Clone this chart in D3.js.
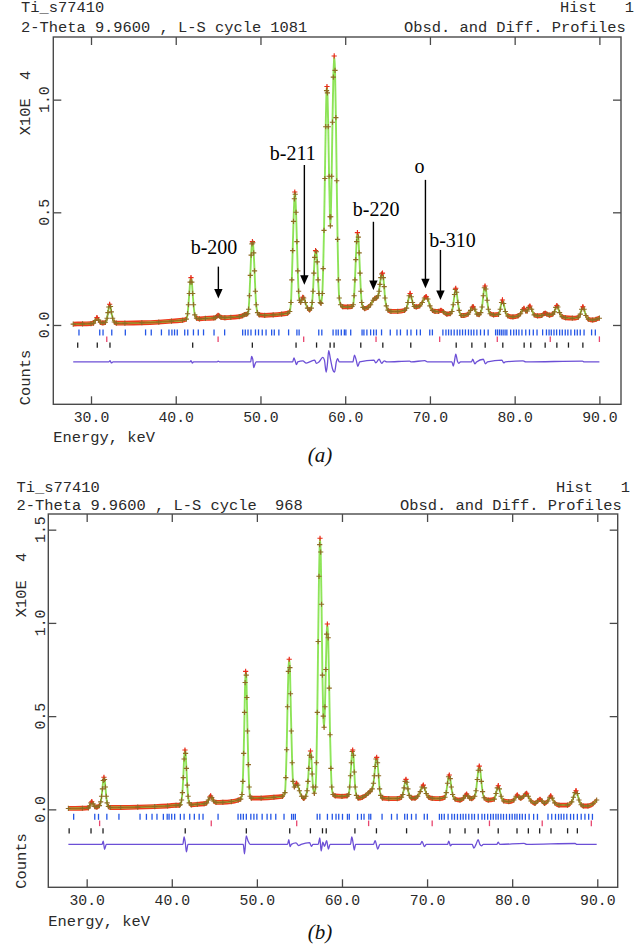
<!DOCTYPE html>
<html><head><meta charset="utf-8">
<script src="https://cdn.jsdelivr.net/npm/d3@7"></script>
<style>body{margin:0;background:#fff;} svg{display:block;} text{white-space:pre;}</style>
</head><body><svg id="c" width="640" height="945"></svg>
<script>
// ---------------- DATA ----------------
const xTicks = [30, 40, 50, 60, 70, 80, 90];
const yTicksA = [0, 0.5, 1.0];
const yTicksB = [0, 0.5, 1.0, 1.5];

// Panel (a): observed profile [energy keV, counts x1e4]
const obsA = [[27.9,0.004],[29.0,0.005],[30.0,0.006],[30.3,0.008],[30.5,0.02],[30.7,0.033],[30.9,0.022],[31.1,0.012],[31.4,0.009],[31.7,0.012],[31.9,0.03],[32.0,0.055],[32.1,0.08],[32.2,0.092],[32.3,0.082],[32.4,0.058],[32.55,0.03],[32.75,0.013],[33.0,0.008],[34.0,0.008],[36.0,0.01],[38.0,0.013],[39.5,0.017],[40.8,0.021],[41.25,0.026],[41.4,0.05],[41.5,0.09],[41.6,0.14],[41.7,0.19],[41.8,0.21],[41.9,0.19],[42.0,0.14],[42.1,0.09],[42.25,0.045],[42.45,0.03],[42.8,0.027],[43.5,0.029],[44.5,0.031],[44.7,0.033],[44.85,0.038],[45.0,0.043],[45.15,0.039],[45.35,0.034],[45.8,0.032],[46.5,0.034],[47.5,0.037],[47.9,0.041],[48.1,0.046],[48.3,0.047],[48.5,0.05],[48.6,0.07],[48.7,0.13],[48.8,0.22],[48.9,0.31],[49.0,0.36],[49.05,0.37],[49.1,0.365],[49.2,0.32],[49.3,0.24],[49.4,0.15],[49.5,0.09],[49.65,0.055],[49.85,0.045],[50.5,0.043],[51.5,0.045],[52.5,0.048],[53.2,0.052],[53.45,0.06],[53.6,0.1],[53.7,0.2],[53.8,0.33],[53.9,0.46],[54.0,0.56],[54.05,0.59],[54.1,0.58],[54.2,0.5],[54.3,0.37],[54.4,0.24],[54.5,0.15],[54.6,0.11],[54.75,0.1],[54.9,0.115],[55.0,0.123],[55.1,0.12],[55.3,0.1],[55.55,0.075],[55.8,0.067],[56.0,0.075],[56.1,0.1],[56.2,0.15],[56.3,0.23],[56.4,0.3],[56.5,0.33],[56.6,0.325],[56.7,0.28],[56.8,0.2],[56.9,0.14],[57.05,0.1],[57.15,0.096],[57.3,0.14],[57.4,0.25],[57.5,0.42],[57.6,0.65],[57.7,0.88],[57.8,1.04],[57.85,1.058],[57.9,1.03],[58.0,0.88],[58.1,0.66],[58.2,0.48],[58.25,0.44],[58.3,0.48],[58.4,0.66],[58.5,0.9],[58.6,1.1],[58.7,1.194],[58.8,1.13],[58.9,0.92],[59.0,0.64],[59.1,0.38],[59.2,0.2],[59.3,0.12],[59.45,0.09],[59.7,0.081],[60.3,0.08],[60.8,0.082],[60.95,0.09],[61.05,0.13],[61.15,0.2],[61.25,0.29],[61.35,0.37],[61.44,0.41],[61.55,0.39],[61.65,0.32],[61.75,0.23],[61.85,0.15],[61.95,0.1],[62.1,0.078],[62.3,0.073],[62.7,0.078],[63.0,0.09],[63.3,0.11],[63.5,0.118],[63.7,0.12],[63.9,0.13],[64.0,0.15],[64.1,0.18],[64.2,0.21],[64.3,0.226],[64.4,0.23],[64.5,0.21],[64.6,0.17],[64.7,0.12],[64.85,0.085],[65.05,0.066],[65.4,0.06],[66.2,0.06],[67.0,0.065],[67.25,0.075],[67.4,0.1],[67.55,0.13],[67.66,0.14],[67.8,0.125],[67.95,0.1],[68.15,0.082],[68.4,0.08],[68.8,0.085],[69.1,0.1],[69.35,0.12],[69.55,0.126],[69.75,0.115],[70.0,0.085],[70.3,0.065],[70.6,0.06],[71.0,0.06],[71.3,0.065],[71.6,0.058],[72.0,0.048],[72.4,0.05],[72.6,0.06],[72.75,0.09],[72.9,0.135],[73.0,0.158],[73.05,0.163],[73.15,0.145],[73.3,0.1],[73.45,0.065],[73.7,0.042],[74.0,0.042],[74.5,0.048],[74.8,0.065],[75.0,0.079],[75.1,0.081],[75.3,0.07],[75.55,0.048],[75.8,0.046],[76.0,0.055],[76.15,0.08],[76.3,0.13],[76.42,0.165],[76.5,0.173],[76.6,0.16],[76.75,0.11],[76.9,0.07],[77.1,0.05],[77.5,0.045],[78.1,0.047],[78.3,0.07],[78.45,0.1],[78.56,0.111],[78.7,0.095],[78.9,0.06],[79.2,0.04],[79.8,0.036],[80.4,0.04],[80.7,0.05],[80.95,0.068],[81.1,0.074],[81.3,0.062],[81.5,0.062],[81.65,0.078],[81.8,0.084],[82.0,0.07],[82.3,0.045],[82.7,0.04],[83.2,0.042],[83.45,0.05],[83.6,0.052],[83.8,0.048],[84.1,0.044],[84.5,0.048],[84.7,0.058],[84.85,0.078],[84.98,0.086],[85.1,0.08],[85.3,0.055],[85.6,0.037],[86.0,0.032],[86.8,0.03],[87.5,0.034],[87.75,0.048],[87.9,0.07],[88.05,0.081],[88.2,0.07],[88.4,0.042],[88.7,0.026],[89.2,0.022],[89.6,0.025],[90.0,0.03]];

// Panel (a): difference profile [energy, obs-calc]
const diffA = [[27.9,0],[32.1,0],[32.25,0.006],[32.4,-0.004],[32.6,0],[41.7,0],[41.8,0.006],[41.95,-0.005],[42.1,0],[44.9,0],[45.0,0.004],[45.2,0],[48.85,0],[48.95,0.025],[49.1,0.01],[49.2,-0.025],[49.35,-0.01],[49.5,0],[53.8,0],[53.95,0.018],[54.1,0.004],[54.25,-0.012],[54.4,0],[55.0,0.005],[55.4,-0.005],[55.8,0],[56.4,0.008],[56.6,-0.006],[56.9,0],[57.35,0.02],[57.55,0.008],[57.75,-0.045],[57.9,-0.01],[58.05,0.05],[58.25,0.015],[58.5,-0.03],[58.75,-0.045],[58.95,0],[59.1,0.015],[59.3,0],[60.9,0],[61.1,0.03],[61.3,0.008],[61.5,-0.02],[61.7,0],[63.4,0.008],[63.6,-0.004],[64.0,0.012],[64.3,-0.006],[64.6,0.005],[64.9,0],[67.6,0.004],[67.8,0],[69.4,0.006],[69.7,0],[72.6,0],[72.75,-0.018],[72.9,0.005],[73.05,0.035],[73.25,0.003],[73.4,-0.006],[73.6,0],[74.9,0],[75.05,0.012],[75.3,-0.008],[75.5,0],[76.3,0.012],[76.55,-0.008],[76.8,0],[78.5,0.008],[78.7,-0.004],[78.9,0],[81.0,0.005],[81.3,0],[88.0,0.004],[88.2,0],[90.0,0]];

// Panel (a): reflection tick positions for the three phases
const blueA = [28.58,31.03,31.42,32.45,34.05,36.44,37.11,38.31,39.20,39.55,39.86,40.18,41.06,41.42,42.09,42.66,43.28,44.52,45.77,47.90,48.21,48.53,48.88,49.41,49.77,50.21,50.66,51.32,51.63,52.17,53.32,54.30,54.56,56.88,57.24,58.57,58.92,59.18,59.54,59.90,60.08,60.65,61.99,62.21,62.56,63.00,63.36,63.67,64.29,65.32,66.11,66.52,67.32,67.76,68.43,68.87,69.98,70.29,71.53,71.89,72.20,72.51,72.86,73.22,73.53,73.85,74.19,74.55,74.87,75.18,75.54,75.97,76.42,76.87,77.75,77.97,78.20,78.42,78.64,78.87,79.08,79.53,79.89,80.20,80.50,80.86,81.31,81.75,82.20,82.64,83.30,83.75,84.06,84.32,84.64,84.95,85.31,85.62,85.97,86.28,86.64,87.08,87.39,87.74,88.19,89.08,89.52];
const redA = [31.86,45.0,55.1,63.64,71.15,77.95,84.2,90.0];
const blackA = [28.43,30.74,32.24,42.0,49.04,54.2,56.62,58.22,58.69,61.84,64.44,67.74,73.1,74.95,76.52,78.6,81.12,81.9,83.6,84.98,86.35,88.05];

// Panel (b)
const obsB = [[27.85,0.005],[29.5,0.006],[30.2,0.008],[30.35,0.018],[30.5,0.035],[30.6,0.041],[30.75,0.03],[30.95,0.015],[31.2,0.012],[31.5,0.02],[31.65,0.04],[31.75,0.07],[31.85,0.11],[31.95,0.155],[32.03,0.172],[32.1,0.16],[32.2,0.12],[32.3,0.07],[32.4,0.035],[32.55,0.015],[32.8,0.01],[34.0,0.01],[36.0,0.012],[38.0,0.015],[39.5,0.018],[40.5,0.022],[40.9,0.022],[41.0,0.025],[41.15,0.05],[41.25,0.09],[41.35,0.17],[41.45,0.27],[41.55,0.318],[41.62,0.3],[41.72,0.22],[41.82,0.13],[41.92,0.07],[42.05,0.035],[42.3,0.024],[43.0,0.027],[43.8,0.03],[44.1,0.034],[44.3,0.05],[44.45,0.066],[44.57,0.072],[44.7,0.063],[44.9,0.045],[45.2,0.037],[46.0,0.038],[47.0,0.042],[47.8,0.05],[48.1,0.055],[48.25,0.08],[48.35,0.15],[48.45,0.3],[48.55,0.52],[48.62,0.68],[48.68,0.74],[48.75,0.72],[48.82,0.6],[48.9,0.42],[49.0,0.24],[49.1,0.12],[49.2,0.07],[49.35,0.06],[50.5,0.06],[52.0,0.065],[53.0,0.07],[53.3,0.09],[53.4,0.17],[53.5,0.32],[53.6,0.55],[53.7,0.74],[53.8,0.805],[53.88,0.76],[53.95,0.62],[54.05,0.42],[54.15,0.25],[54.25,0.15],[54.4,0.12],[54.55,0.13],[54.67,0.14],[54.8,0.13],[55.0,0.1],[55.25,0.07],[55.5,0.059],[55.75,0.07],[55.9,0.1],[56.0,0.15],[56.1,0.22],[56.2,0.29],[56.3,0.313],[56.4,0.28],[56.5,0.19],[56.6,0.12],[56.75,0.086],[56.9,0.12],[57.0,0.25],[57.1,0.52],[57.2,0.9],[57.3,1.25],[57.38,1.42],[57.42,1.454],[57.5,1.38],[57.6,1.1],[57.7,0.72],[57.8,0.5],[57.9,0.44],[58.0,0.55],[58.1,0.75],[58.2,0.94],[58.28,0.994],[58.38,0.92],[58.5,0.65],[58.6,0.4],[58.7,0.22],[58.8,0.12],[58.95,0.08],[59.2,0.072],[60.0,0.07],[60.6,0.072],[60.8,0.08],[60.9,0.12],[61.0,0.18],[61.1,0.25],[61.2,0.31],[61.26,0.318],[61.35,0.29],[61.45,0.2],[61.55,0.12],[61.7,0.075],[61.9,0.06],[62.4,0.065],[62.8,0.075],[63.1,0.088],[63.3,0.095],[63.55,0.11],[63.7,0.14],[63.8,0.18],[63.9,0.23],[64.0,0.27],[64.08,0.279],[64.18,0.25],[64.3,0.18],[64.42,0.11],[64.55,0.075],[64.75,0.06],[65.5,0.058],[66.5,0.058],[67.0,0.065],[67.15,0.08],[67.3,0.115],[67.42,0.15],[67.52,0.161],[67.62,0.145],[67.75,0.11],[67.9,0.075],[68.2,0.06],[68.58,0.06],[68.9,0.07],[69.2,0.095],[69.4,0.12],[69.56,0.13],[69.7,0.115],[69.9,0.085],[70.2,0.065],[70.6,0.059],[71.5,0.058],[72.1,0.065],[72.25,0.09],[72.4,0.14],[72.52,0.175],[72.61,0.184],[72.72,0.165],[72.85,0.12],[73.0,0.08],[73.3,0.055],[73.87,0.05],[74.3,0.06],[74.5,0.075],[74.65,0.082],[74.8,0.072],[75.0,0.06],[75.24,0.058],[75.6,0.07],[75.75,0.1],[75.9,0.16],[76.02,0.21],[76.13,0.232],[76.25,0.21],[76.38,0.15],[76.52,0.095],[76.7,0.062],[77.19,0.05],[77.9,0.055],[78.1,0.085],[78.25,0.115],[78.37,0.127],[78.5,0.11],[78.7,0.07],[79.0,0.045],[79.6,0.041],[80.2,0.05],[80.45,0.07],[80.6,0.077],[80.8,0.065],[81.0,0.06],[81.35,0.07],[81.55,0.082],[81.7,0.086],[81.9,0.07],[82.2,0.045],[82.68,0.032],[83.0,0.045],[83.27,0.054],[83.5,0.045],[83.8,0.032],[84.2,0.045],[84.4,0.065],[84.53,0.072],[84.7,0.06],[85.0,0.035],[85.5,0.023],[86.5,0.023],[87.0,0.04],[87.2,0.065],[87.38,0.09],[87.5,0.1],[87.65,0.085],[87.85,0.05],[88.1,0.025],[88.36,0.018],[88.9,0.018],[89.5,0.03],[89.93,0.05]];

const diffB = [[27.85,0],[31.8,0],[31.95,0.018],[32.1,-0.027],[32.3,0],[41.3,0],[41.45,0.04],[41.6,0.005],[41.72,-0.04],[41.9,0],[48.4,0],[48.55,-0.05],[48.75,0.045],[48.95,0.02],[49.2,0],[53.6,0],[53.75,0.025],[53.9,-0.012],[54.05,0],[54.6,0.008],[54.9,-0.006],[55.2,0],[56.2,0.01],[56.4,-0.01],[56.6,0],[57.2,0],[57.4,0.035],[57.55,-0.035],[57.75,0.012],[57.95,-0.01],[58.2,0.02],[58.4,-0.025],[58.6,0],[61.0,0],[61.15,0.04],[61.3,0.01],[61.45,-0.03],[61.6,0],[63.7,0],[63.9,0.02],[64.2,-0.025],[64.45,0],[69.2,0],[69.4,0.016],[69.7,-0.012],[69.9,0],[72.4,0],[72.55,0.018],[72.75,-0.008],[72.9,0],[75.3,0],[75.5,-0.02],[75.75,0],[76.0,0.025],[76.2,0],[76.4,-0.008],[76.6,0],[78.2,0],[78.35,0.012],[78.55,0],[81.4,0.006],[81.7,0],[87.4,0.005],[87.6,0],[89.93,0]];

const blueB = [28.47,30.95,31.39,32.37,33.79,36.27,37.02,37.68,38.26,39.01,39.46,39.68,39.99,40.34,41.01,41.45,42.11,42.65,43.22,43.67,45.44,47.79,48.10,48.41,48.76,49.29,49.65,50.00,50.62,51.20,51.64,52.22,53.19,54.08,54.30,54.52,57.09,57.40,58.29,58.86,59.30,59.62,60.06,60.64,60.86,61.83,62.28,62.59,63.16,63.38,64.71,65.82,66.48,67.37,67.68,68.17,68.70,69.67,70.03,71.45,71.71,72.02,72.47,72.91,73.22,73.57,73.93,74.24,74.55,74.90,75.26,75.57,76.01,76.45,76.76,77.12,77.47,77.78,78.09,78.36,78.67,78.98,79.33,79.69,80.00,80.31,80.57,80.88,81.19,81.55,81.99,82.52,82.97,84.21,84.65,85.09,85.45,85.76,86.07,86.42,86.86,87.22,87.66,88.11,88.55,88.99,89.43];
const redB = [31.52,44.64,54.68,63.13,70.6,77.33,83.53,89.3];
const blackB = [27.94,30.51,31.92,41.58,48.76,53.86,56.29,57.71,58.15,61.52,64.05,67.59,72.69,74.46,76.01,78.36,80.57,81.9,83.23,84.56,86.51,87.66];

// Peak labels of panel (a)
const annLabels = ["b-200", "b-211", "b-220", "o", "b-310"];
const annEnergy = [45.03, 55.18, 63.33, 69.47, 71.24];

// ---------------- DRAWING ----------------
const MONO = "'Liberation Mono','DejaVu Sans Mono',monospace";
const SERIF = "'Liberation Serif','DejaVu Serif',serif";
const svg = d3.select("#c");

function drawPanel(p) {
  const x = d3.scaleLinear().domain(p.xDom).range([p.L, p.R]);
  const y = d3.scaleLinear().domain(p.yDom).range([p.B, p.T]);
  const g = svg.append("g");

  // header texts
  const hdr = (t, xx, yy) => g.append("text").attr("x", xx).attr("y", yy).text(t)
      .attr("font-family", MONO).attr("font-size", 15.4).attr("fill", "#2a2a2a");
  hdr("Ti_s77410", p.hx, p.h1);
  hdr("Hist   1", p.histX, p.h1);
  hdr(p.title2, p.hx, p.h2);
  hdr("Obsd. and Diff. Profiles", p.obsdX, p.h2);

  // frame
  g.append("rect").attr("x", p.L).attr("y", p.T).attr("width", p.R - p.L).attr("height", p.B - p.T)
    .attr("fill", "none").attr("stroke", "#4a4a4a").attr("stroke-width", 1.4);

  const styleAxis = a => {
    a.select(".domain").remove();
    a.selectAll("line").attr("stroke", "#4a4a4a").attr("stroke-width", 1.3);
    a.selectAll("text").attr("font-family", MONO).attr("font-size", 14.8).attr("fill", "#2a2a2a");
  };
  g.append("g").attr("transform", `translate(0,${p.B})`)
    .call(d3.axisBottom(x).tickValues(xTicks).tickSize(-8).tickPadding(7).tickFormat(d3.format(".1f"))).call(styleAxis);
  g.append("g").attr("transform", `translate(0,${p.T})`)
    .call(d3.axisTop(x).tickValues(xTicks).tickSize(-8).tickFormat("")).call(styleAxis);
  g.append("g").attr("transform", `translate(${p.L},0)`)
    .call(d3.axisLeft(y).tickValues(p.yTicks).tickSize(-8).tickFormat("")).call(styleAxis);
  g.append("g").attr("transform", `translate(${p.R},0)`)
    .call(d3.axisRight(y).tickValues(p.yTicks).tickSize(-8).tickFormat("")).call(styleAxis);

  // rotated y tick labels
  g.selectAll(".ylab").data(p.yTicks).join("text")
    .attr("transform", d => `translate(${p.ylabX},${y(d)}) rotate(-90)`)
    .attr("text-anchor", "middle").text(d => d3.format(".1f")(d))
    .attr("font-family", MONO).attr("font-size", 14.8).attr("fill", "#2a2a2a");

  // axis titles
  const rot = (t, xx, yy) => g.append("text").attr("transform", `translate(${xx},${yy}) rotate(-90)`)
      .attr("text-anchor", "middle").text(t).attr("font-family", MONO).attr("font-size", 15.4).attr("fill", "#2a2a2a");
  rot("X10E  4", p.yTitleX, p.yTitleY);
  rot("Counts", p.yTitleX, p.countsY);
  g.append("text").attr("x", p.L).attr("y", p.energyY).text("Energy, keV")
    .attr("font-family", MONO).attr("font-size", 15.4).attr("fill", "#2a2a2a");
  g.append("text").attr("x", 320).attr("y", p.capY).attr("text-anchor", "middle").text(p.caption)
    .attr("font-family", SERIF).attr("font-style", "italic").attr("font-size", 21).attr("fill", "#111");

  // reflection ticks
  const tickRow = (arr, v, col, h) => g.append("g").selectAll("line").data(arr).join("line")
      .attr("x1", d => x(d)).attr("x2", d => x(d))
      .attr("y1", y(v) - h).attr("y2", y(v) + h).attr("stroke", col).attr("stroke-width", 1.3);
  tickRow(p.blue, p.rowBlue, "#2456e6", 3);
  tickRow(p.red, p.rowRed, "#e8456e", 2.8);
  tickRow(p.black, p.rowBlack, "#202020", 2.6);

  // difference curve
  g.append("path").datum(p.diff)
    .attr("d", d3.line().x(d => x(d[0])).y(d => y(p.diffBase + d[1])).curve(d3.curveMonotoneX))
    .attr("fill", "none").attr("stroke", "#6c4fd6").attr("stroke-width", 1.3);

  // observed band (dense markers appear as a thick red band)
  g.append("path").datum(p.obs)
    .attr("d", d3.area().x(d => x(d[0])).y0(d => y(d[1]) + 2.4).y1(d => y(d[1]) - 2.4).curve(d3.curveMonotoneX))
    .attr("fill", "#ee3b1c");
  // calculated (green)
  g.append("path").datum(p.obs)
    .attr("d", d3.line().x(d => x(d[0])).y(d => y(d[1])).curve(d3.curveMonotoneX))
    .attr("fill", "none").attr("stroke", "#8ee65a").attr("stroke-width", 1.9);
  // olive core of the marker band
  g.append("path").datum(p.obs)
    .attr("d", d3.area().x(d => x(d[0])).y0(d => y(d[1]) + 0.8).y1(d => y(d[1]) - 0.8).curve(d3.curveMonotoneX))
    .attr("fill", "#a86a1c");
  // + markers
  const isTop = (d, i, arr) => i > 0 && i < arr.length - 1 && d[1] > arr[i - 1][1] && d[1] > arr[i + 1][1];
  g.append("g").selectAll("path").data(p.obs).join("path")
    .attr("transform", d => `translate(${x(d[0])},${y(d[1])})`)
    .attr("d", "M-2.6,0H2.6M0,-2.6V2.6")
    .attr("stroke", (d, i) => isTop(d, i, p.obs) ? "#ec2a1c" : "#8f6a24").attr("stroke-width", 1.1);

  return {x, y, g};
}

const A = drawPanel({
  xDom: [25.55, 92.55], yDom: [-0.352, 1.278], L: 53.3, R: 621, T: 37, B: 404.3,
  hx: 21, h1: 12, h2: 31.5, histX: 560, obsdX: 404,
  title2: "2-Theta 9.9600 , L-S cycle 1081",
  yTicks: yTicksA, ylabX: 48.5, yTitleX: 29.7, yTitleY: 103, countsY: 377.5,
  energyY: 441.5, caption: "(a)", capY: 462,
  obs: obsA, diff: diffA, diffBase: -0.164,
  blue: blueA, red: redA, black: blackA, rowBlue: -0.033, rowRed: -0.063, rowBlack: -0.089
});

drawPanel({
  xDom: [25.49, 92.4], yDom: [-0.418, 1.584], L: 48.3, R: 617.7, T: 514, B: 887.3,
  hx: 16.5, h1: 492, h2: 510, histX: 556, obsdX: 400,
  title2: "2-Theta 9.9600 , L-S cycle  968",
  yTicks: yTicksB, ylabX: 45.2, yTitleX: 26.4, yTitleY: 585, countsY: 861,
  energyY: 926, caption: "(b)", capY: 939,
  obs: obsB, diff: diffB, diffBase: -0.188,
  blue: blueB, red: redB, black: blackB, rowBlue: -0.040, rowRed: -0.075, rowBlack: -0.115
});

// annotations with arrows (panel a)
const annText = [[44.52, 0.315], [53.81, 0.731], [63.65, 0.482], [68.76, 0.676], [72.66, 0.346]];
const annArrow = [[0.259, 0.118], [0.71, 0.178], [0.458, 0.155], [0.644, 0.163], [0.333, 0.111]];
const ann = A.g.append("g");
annLabels.forEach((lab, i) => {
  ann.append("text").attr("x", A.x(annText[i][0])).attr("y", A.y(annText[i][1]))
    .attr("text-anchor", "middle").text(lab)
    .attr("font-family", SERIF).attr("font-size", 20).attr("fill", "#000");
  const ax = A.x(annEnergy[i]), y0 = A.y(annArrow[i][0]), y1 = A.y(annArrow[i][1]);
  ann.append("line").attr("x1", ax).attr("x2", ax).attr("y1", y0).attr("y2", y1 - 8)
    .attr("stroke", "#000").attr("stroke-width", 1.4);
  ann.append("path").attr("d", `M${ax - 4.2},${y1 - 9.5}L${ax + 4.2},${y1 - 9.5}L${ax},${y1}Z`).attr("fill", "#000");
});
</script>
</body></html>
